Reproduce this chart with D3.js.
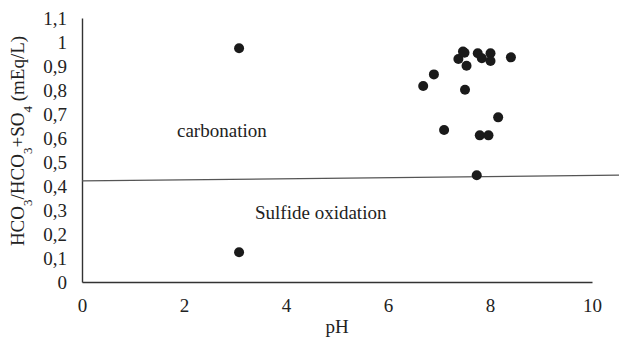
<!DOCTYPE html>
<html>
<head>
<meta charset="utf-8">
<script src="https://cdn.jsdelivr.net/npm/d3@7"></script>
<style>
  html, body { margin: 0; padding: 0; background: #fff; }
  svg { display: block; font-family: "Liberation Serif", "Times New Roman", serif; }
</style>
</head>
<body>
<svg id="chart" width="619" height="342"></svg>
<script>
// Data
const phValues = [7.47, 7.38, 7.50, 7.76, 7.84, 8.01, 8.01, 8.41, 7.54, 6.90, 6.69, 7.51, 8.16, 7.10, 7.80, 7.97, 7.74, 3.08, 3.08];
const ratioValues = [0.960, 0.929, 0.955, 0.953, 0.932, 0.953, 0.921, 0.936, 0.901, 0.865, 0.817, 0.801, 0.686, 0.633, 0.611, 0.611, 0.445, 0.974, 0.124];
const trendX = [0, 10.53];
const trendY = [0.421, 0.445];
const xTicks = [0, 2, 4, 6, 8, 10];
const yTicks = [0, 0.1, 0.2, 0.3, 0.4, 0.5, 0.6, 0.7, 0.8, 0.9, 1.0, 1.1];
const regionLabels = ["carbonation", "Sulfide oxidation"];

const FS = 19;
const svg = d3.select("#chart");
const x = d3.scaleLinear().domain([0, 10]).range([82, 592]);
const y = d3.scaleLinear().domain([0, 1.1]).range([282, 18]);

const loc = d3.formatLocale({decimal: ",", thousands: ".", grouping: [3], currency: ["", ""]});
const fmt = loc.format(".1~f");

const xAxis = svg.append("g")
  .attr("transform", "translate(0,282)")
  .call(d3.axisBottom(x).tickValues(xTicks).tickSize(0).tickPadding(17).tickFormat(fmt));
const yAxis = svg.append("g")
  .attr("transform", "translate(82,0)")
  .call(d3.axisLeft(y).tickValues(yTicks).tickSize(0).tickPadding(15).tickFormat(fmt));

[xAxis, yAxis].forEach(g => {
  g.select(".domain").attr("stroke", "#333").attr("stroke-width", 1.4);
  g.selectAll("text").attr("font-family", "Liberation Serif, Times New Roman, serif")
    .attr("font-size", FS).attr("fill", "#222");
});

// trend line
const line = d3.line().x(d => x(d[0])).y(d => y(d[1]));
svg.append("path")
  .datum(trendX.map((v, i) => [v, trendY[i]]))
  .attr("d", line)
  .attr("fill", "none")
  .attr("stroke", "#555")
  .attr("stroke-width", 1.2);

// points
svg.append("g").selectAll("circle")
  .data(phValues.map((v, i) => [v, ratioValues[i]]))
  .join("circle")
  .attr("cx", d => x(d[0]))
  .attr("cy", d => y(d[1]))
  .attr("r", 5)
  .attr("fill", "#1a1a1a");

// region labels
svg.append("text").attr("x", 177).attr("y", 137)
  .attr("font-size", FS).attr("fill", "#222").text(regionLabels[0]);
svg.append("text").attr("x", 255).attr("y", 219)
  .attr("font-size", FS).attr("fill", "#222").text(regionLabels[1]);

// axis titles
svg.append("text").attr("x", 337).attr("y", 333)
  .attr("text-anchor", "middle").attr("font-size", FS).attr("fill", "#222").text("pH");

const yt = svg.append("text")
  .attr("transform", "translate(24,141) rotate(-90)")
  .attr("text-anchor", "middle").attr("font-size", FS).attr("fill", "#222");
yt.append("tspan").text("HCO");
yt.append("tspan").attr("baseline-shift", "sub").attr("font-size", 13).text("3");
yt.append("tspan").text("/HCO");
yt.append("tspan").attr("baseline-shift", "sub").attr("font-size", 13).text("3");
yt.append("tspan").text("+SO");
yt.append("tspan").attr("baseline-shift", "sub").attr("font-size", 13).text("4");
yt.append("tspan").text(" (mEq/L)");
</script>
</body>
</html>
